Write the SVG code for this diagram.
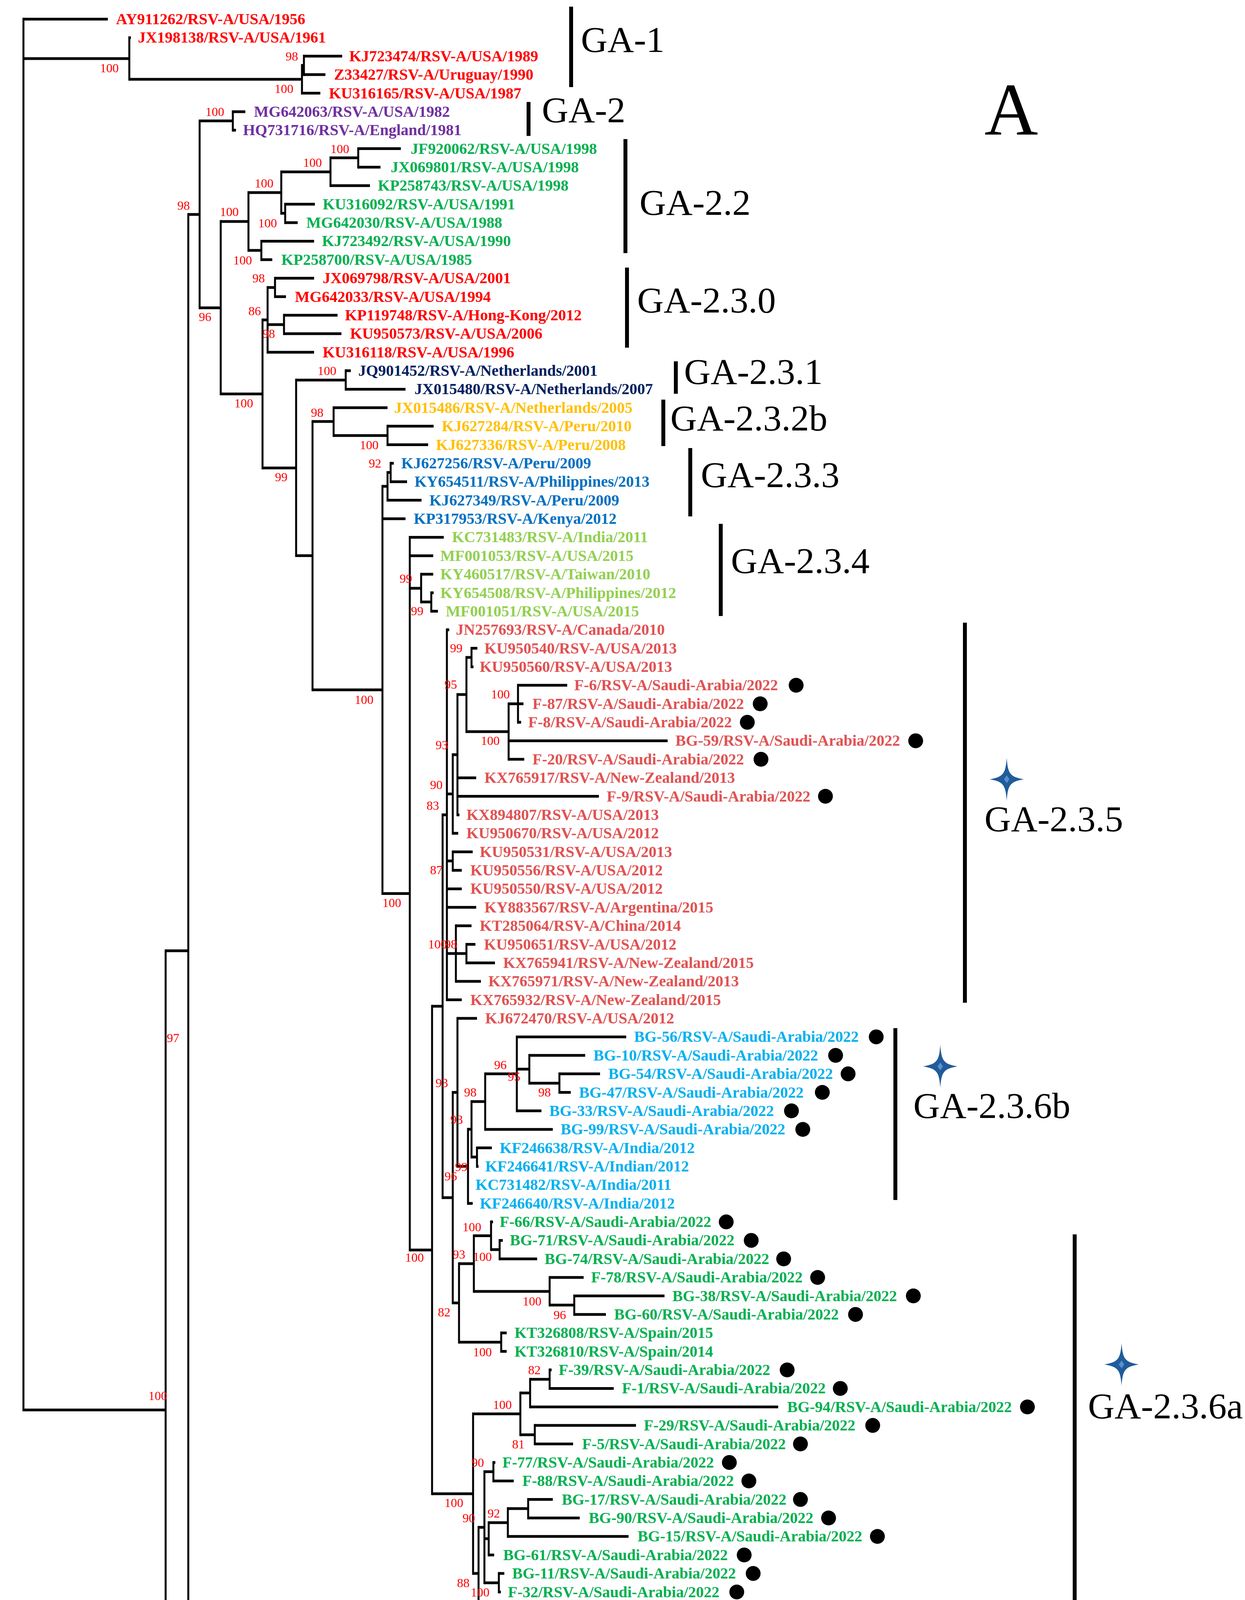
<svg xmlns="http://www.w3.org/2000/svg" xmlns:xlink="http://www.w3.org/1999/xlink" width="3187" height="5598" viewBox="0 0 3187 5598">
<style>
.t{font-family:"Liberation Serif","Times New Roman",serif;font-weight:bold;font-size:40px}
.b{font-family:"Liberation Serif","Times New Roman",serif;font-size:32px;fill:#ff0000}
.c{font-family:"Liberation Serif","Times New Roman",serif;font-size:94px;fill:#000}
.bar{stroke:#000;stroke-width:10}
.h{fill:none;stroke:#000;stroke-width:7}
.v{fill:none;stroke:#000;stroke-width:5}
.r{fill:#ff0000}.p{fill:#7030a0}.g{fill:#00b050}.nv{fill:#002060}.y{fill:#ffc000}.bl{fill:#0070c0}.lg{fill:#92d050}.s{fill:#e05252}.cy{fill:#00b0f0}.o{fill:#f79646}.br{fill:#c55a11}.ds{fill:#38385e}.pg{fill:#5f497a}.mb{fill:#3a8dde}.k{fill:#000}
</style>
<defs>
<g id="star"><path d="M0,-55 C3,-15 8,-6 44,0 C8,6 3,15 0,55 C-3,15 -8,6 -44,0 C-8,-6 -3,-15 0,-55Z" fill="#1f5c99"/><path d="M0,-10 L7,0 L0,10 L-7,0Z" fill="#5a8ed0"/></g>
</defs>
<rect width="3187" height="5598" fill="#fff"/>
<g id="connectors">
<path class="h" d="M60 49H276M60 150H331M331 96.4H335M331 203H773M773 167.5H778M778 143.7H876M778 191.1H833M773 238.5H820M60 3609.5H424M424 2434H482M482 549H511M511 309.5H596M596 285.9H628M596 333.2H604M511 788H565M565 567H636M636 493H720M720 440H846M846 404H917M917 380.6H1026M917 428H974M846 475.3H947M720 546H730M730 522.7H806M730 570.1H762M636 641H669M669 617.4H804M669 664.8H697M565 1008.5H672M672 819H685M685 736H704M704 712.2H804M704 759.6H732M685 831H727M727 806.9H864M727 854.3H874M685 901.7H804M672 1198H758M758 973H885M885 949H898M885 996.4H1038M758 1422.5H800M800 1079H854M854 1043.8H992M854 1115H992M992 1091.1H1110M992 1138.5H1096M800 1766H979M979 1245H992M992 1209.5H1000M1000 1185.9H1008M1000 1233.3H1042M992 1280.6H1079M979 1328H1038M979 2287.5H1049M1049 1375.4H1136M1049 1422.7H1109M1049 1506H1078M1078 1470.1H1109M1078 1541H1104M1104 1517.5H1110M1104 1564.8H1121M1049 3200H1106M1106 2576H1133M1133 2086H1144M1144 1612.2H1150M1144 2032.5H1159M1159 1932H1171M1171 1778H1194M1194 1683H1207M1207 1659.6H1222M1207 1707H1212M1194 1873H1302M1302 1801.7H1340M1326 1754.3H1452M1326 1849.1H1334M1302 1896.4H1709M1302 1943.8H1342M1171 1991.2H1219M1171 2038.5H1533M1171 2085.9H1176M1159 2133.3H1173M1144 2204H1159M1159 2180.7H1210M1159 2228H1182M1144 2275.4H1182M1144 2322.8H1219M1144 2441H1194M1167 2370.1H1207M1194 2417.5H1217M1194 2464.9H1267M1167 2512.2H1231M1144 2559.6H1182M1133 3066H1159M1159 2796.5H1171M1171 2607H1221M1171 2986H1198M1198 2891H1207M1207 2820H1242M1242 2749H1323M1323 2654.4H1603M1323 2737H1355M1355 2701.7H1498M1355 2773H1432M1432 2749.1H1536M1432 2796.5H1461M1323 2843.8H1386M1242 2891.2H1415M1207 2962H1221M1221 2938.6H1259M1221 2985.9H1225M1198 3080.7H1210M1159 3335.5H1175M1175 3235H1213M1213 3163.5H1257M1257 3128.1H1262M1257 3199H1279M1279 3175.4H1287M1279 3222.8H1375M1213 3306H1407M1407 3270.2H1494M1407 3341H1470M1470 3317.5H1701M1470 3364.9H1551M1175 3436H1283M1283 3412.3H1297M1283 3459.6H1297M1106 3824H1211M1211 3619.5H1332M1332 3566H1357M1357 3531H1407M1407 3507H1412M1407 3554.4H1571M1357 3601.8H1992M1332 3673H1369M1369 3649.1H1628M1369 3696.5H1467M1211 4028H1225M1225 3910H1240M1240 3767.5H1263M1263 3743.9H1268M1263 3791.2H1315M1240 3939H1251M1251 3898H1300M1300 3862H1352M1352 3838.6H1415M1352 3886H1484M1300 3933.3H1609M1251 3980.7H1265M1240 4052H1277M1277 4028.1H1291M1277 4075.5H1282M1225 4146.5H1296M1296 4122.8H1306M1296 4170.2H1349M482 4318H582M582 4277H623M623 4241H680M680 4217.6H694M680 4264.9H686M623 4312.3H640M582 4359.7H683M424 4496H436M436 4442.5H482M482 4407H496M482 4478H525M525 4454.4H539M525 4501.8H698M436 4549.1H683M424 4785H586M586 4644H611M611 4596.5H657M611 4643.9H616M611 4691.3H712M586 4926.5H721M721 4809.5H730M730 4762H737M737 4738.6H746M737 4786H746M730 4857H746M746 4833.4H761M746 4880.7H848M721 5043.5H733M733 4928.1H817M733 5159H794M794 5046.5H807M807 4999H825M825 4975.5H938M825 5022.8H1021M807 5094H833M833 5070.2H863M833 5117.6H848M794 5271.5H802M802 5164.9H871M802 5212.3H888M802 5378H883M883 5283H911M911 5259.7H926M911 5307.1H954M883 5354.4H967M883 5473H1070M1070 5425.5H1102M1102 5401.8H1159M1102 5449.2H1128M1070 5520H1084M1084 5496.5H1159M1084 5543.9H1211"/>
<path class="v" d="M60 45.5V3613M331 93V206.5M773 164V242M778 140V194.6M424 2430.5V4788.5M482 545.5V4321.5M511 306V791.5M596 282.4V336.7M565 563.5V1012M636 489.5V644.5M720 436.5V549.5M846 400.5V478.8M917 377.1V431.5M730 519.2V573.6M669 613.9V668.3M672 815.5V1201.5M685 732.5V905.2M704 708.7V763.1M727 803.4V857.8M758 969.5V1426M885 945.5V999.9M800 1075.5V1769.5M854 1040.3V1118.5M992 1087.6V1142M979 1241.5V2291M992 1206V1284.1M1000 1182.4V1236.8M1049 1371.9V3203.5M1078 1466.6V1544.5M1104 1514V1568.3M1106 2572.5V3827.5M1133 2082.5V3069.5M1144 1608.7V2563.1M1159 1928.5V2136.8M1171 1774.5V2089.4M1194 1679.5V1876.5M1207 1656.1V1710.5M1302 1798.2V1947.3M1326 1750.8V1852.6M1159 2177.2V2231.5M1167 2366.6V2515.7M1194 2414V2468.4M1159 2793V3339M1171 2603.5V2989.5M1198 2887.5V3084.2M1207 2816.5V2965.5M1242 2745.5V2894.7M1323 2650.9V2847.3M1355 2698.2V2776.5M1432 2745.6V2800M1221 2935.1V2989.4M1175 3231.5V3439.5M1213 3160V3309.5M1257 3124.6V3202.5M1279 3171.9V3226.3M1407 3266.7V3344.5M1470 3314V3368.4M1283 3408.8V3463.1M1211 3616V4031.5M1332 3562.5V3676.5M1357 3527.5V3605.3M1407 3503.5V3557.9M1369 3645.6V3700M1225 3906.5V4150M1240 3764V4055.5M1263 3740.4V3794.7M1251 3894.5V3984.2M1300 3858.5V3936.8M1352 3835.1V3889.5M1277 4024.6V4079M1296 4119.3V4173.7M582 4273.5V4363.2M623 4237.5V4315.8M680 4214.1V4268.4M436 4439V4552.6M482 4403.5V4481.5M525 4450.9V4505.3M586 4640.5V4930M611 4593V4694.8M721 4806V5047M730 4758.5V4860.5M737 4735.1V4789.5M746 4829.9V4884.2M733 4924.6V5162.5M794 5043V5275M807 4995.5V5097.5M825 4972V5026.3M833 5066.7V5121.1M802 5161.4V5381.5M883 5279.5V5476.5M911 5256.2V5310.6M1070 5422V5523.5M1102 5398.3V5452.7M1084 5493V5547.4"/>
</g>
<g id="bootstrap" class="b">
<text x="256" y="185">100</text><text x="731" y="155">98</text><text x="703" y="238">100</text><text x="526" y="297">100</text><text x="846" y="392">100</text><text x="776" y="427">100</text><text x="652" y="480">100</text><text x="563" y="553">100</text><text x="661" y="582">100</text><text x="597" y="677">100</text><text x="454" y="537">98</text><text x="509" y="822">96</text><text x="646" y="723">98</text><text x="636" y="807">86</text><text x="672" y="865">98</text><text x="600" y="1043">100</text><text x="813" y="960">100</text><text x="796" y="1067">98</text><text x="921" y="1150">100</text><text x="704" y="1232">99</text><text x="944" y="1197">92</text><text x="1023" y="1492">99</text><text x="1052" y="1575">99</text><text x="908" y="1802">100</text><text x="1152" y="1670">99</text><text x="1138" y="1763">95</text><text x="1257" y="1788">100</text><text x="1231" y="1907">100</text><text x="1115" y="1918">93</text><text x="1101" y="2020">90</text><text x="1092" y="2073">83</text><text x="1101" y="2238">87</text><text x="979" y="2322">100</text><text x="1096" y="2428">100</text><text x="1138" y="2428">98</text><text x="1115" y="2783">93</text><text x="1265" y="2737">96</text><text x="1300" y="2767">95</text><text x="1378" y="2807">98</text><text x="1188" y="2807">98</text><text x="1153" y="2877">93</text><text x="1165" y="2998">99</text><text x="1138" y="3022">96</text><text x="1184" y="3152">100</text><text x="1159" y="3222">93</text><text x="1211" y="3228">100</text><text x="1037" y="3230">100</text><text x="1338" y="3342">100</text><text x="1417" y="3377">96</text><text x="1121" y="3370">82</text><text x="1211" y="3472">100</text><text x="1352" y="3518">82</text><text x="1262" y="3607">100</text><text x="1311" y="3708">81</text><text x="1207" y="3755">90</text><text x="1138" y="3858">100</text><text x="1248" y="3885">92</text><text x="1184" y="3897">90</text><text x="1170" y="4063">88</text><text x="1205" y="4087">100</text><text x="1243" y="4182">98</text><text x="611" y="4228">100</text><text x="557" y="4265">100</text><text x="513" y="4353">100</text><text x="427" y="4428">98</text><text x="471" y="4512">97</text><text x="556" y="4632">96</text><text x="517" y="4817">100</text><text x="678" y="4785">98</text><text x="692" y="4890">98</text><text x="648" y="4955">100</text><text x="771" y="4987">87</text><text x="678" y="5077">98</text><text x="776" y="5129">99</text><text x="718" y="5193">100</text><text x="842" y="5273">100</text><text x="813" y="5416">100</text><text x="1029" y="5415">100</text><text x="1001" y="5512">100</text><text x="1029" y="5558">99</text><text x="427" y="2668">97</text><text x="380" y="3584">100</text>
</g>
<g id="leaves" class="t">
<g id="n1" class="r"><text x="297" y="62">AY911262/RSV-A/USA/1956</text></g>
<g id="n2" class="r"><text x="353" y="109.4">JX198138/RSV-A/USA/1961</text></g>
<g id="n3" class="r"><text x="894" y="156.7">KJ723474/RSV-A/USA/1989</text></g>
<g id="n4" class="r"><text x="855" y="204.1">Z33427/RSV-A/Uruguay/1990</text></g>
<g id="n5" class="r"><text x="842" y="251.5">KU316165/RSV-A/USA/1987</text></g>
<g id="n6" class="p"><text x="650" y="298.9">MG642063/RSV-A/USA/1982</text></g>
<g id="n7" class="p"><text x="622" y="346.2">HQ731716/RSV-A/England/1981</text></g>
<g id="n8" class="g"><text x="1051" y="393.6">JF920062/RSV-A/USA/1998</text></g>
<g id="n9" class="g"><text x="1000" y="441">JX069801/RSV-A/USA/1998</text></g>
<g id="n10" class="g"><text x="967" y="488.3">KP258743/RSV-A/USA/1998</text></g>
<g id="n11" class="g"><text x="826" y="535.7">KU316092/RSV-A/USA/1991</text></g>
<g id="n12" class="g"><text x="784" y="583.1">MG642030/RSV-A/USA/1988</text></g>
<g id="n13" class="g"><text x="824" y="630.4">KJ723492/RSV-A/USA/1990</text></g>
<g id="n14" class="g"><text x="720" y="677.8">KP258700/RSV-A/USA/1985</text></g>
<g id="n15" class="r"><text x="826" y="725.2">JX069798/RSV-A/USA/2001</text></g>
<g id="n16" class="r"><text x="755" y="772.6">MG642033/RSV-A/USA/1994</text></g>
<g id="n17" class="r"><text x="883" y="819.9">KP119748/RSV-A/Hong-Kong/2012</text></g>
<g id="n18" class="r"><text x="896" y="867.3">KU950573/RSV-A/USA/2006</text></g>
<g id="n19" class="r"><text x="826" y="914.7">KU316118/RSV-A/USA/1996</text></g>
<g id="n20" class="nv"><text x="917" y="962">JQ901452/RSV-A/Netherlands/2001</text></g>
<g id="n21" class="nv"><text x="1061" y="1009.4">JX015480/RSV-A/Netherlands/2007</text></g>
<g id="n22" class="y"><text x="1009" y="1056.8">JX015486/RSV-A/Netherlands/2005</text></g>
<g id="n23" class="y"><text x="1131" y="1104.1">KJ627284/RSV-A/Peru/2010</text></g>
<g id="n24" class="y"><text x="1116" y="1151.5">KJ627336/RSV-A/Peru/2008</text></g>
<g id="n25" class="bl"><text x="1027" y="1198.9">KJ627256/RSV-A/Peru/2009</text></g>
<g id="n26" class="bl"><text x="1061" y="1246.3">KY654511/RSV-A/Philippines/2013</text></g>
<g id="n27" class="bl"><text x="1099" y="1293.6">KJ627349/RSV-A/Peru/2009</text></g>
<g id="n28" class="bl"><text x="1059" y="1341">KP317953/RSV-A/Kenya/2012</text></g>
<g id="n29" class="lg"><text x="1157" y="1388.4">KC731483/RSV-A/India/2011</text></g>
<g id="n30" class="lg"><text x="1127" y="1435.7">MF001053/RSV-A/USA/2015</text></g>
<g id="n31" class="lg"><text x="1127" y="1483.1">KY460517/RSV-A/Taiwan/2010</text></g>
<g id="n32" class="lg"><text x="1127" y="1530.5">KY654508/RSV-A/Philippines/2012</text></g>
<g id="n33" class="lg"><text x="1141" y="1577.8">MF001051/RSV-A/USA/2015</text></g>
<g id="n34" class="s"><text x="1167" y="1625.2">JN257693/RSV-A/Canada/2010</text></g>
<g id="n35" class="s"><text x="1240" y="1672.6">KU950540/RSV-A/USA/2013</text></g>
<g id="n36" class="s"><text x="1228" y="1720">KU950560/RSV-A/USA/2013</text></g>
<g id="n37" class="s"><text x="1470" y="1767.3">F-6/RSV-A/Saudi-Arabia/2022</text><circle cx="2038" cy="1754.3" r="19" class="k"/></g>
<g id="n38" class="s"><text x="1363" y="1814.7">F-87/RSV-A/Saudi-Arabia/2022</text><circle cx="1946" cy="1801.7" r="19" class="k"/></g>
<g id="n39" class="s"><text x="1352" y="1862.1">F-8/RSV-A/Saudi-Arabia/2022</text><circle cx="1913" cy="1849.1" r="19" class="k"/></g>
<g id="n40" class="s"><text x="1729" y="1909.4">BG-59/RSV-A/Saudi-Arabia/2022</text><circle cx="2344" cy="1896.4" r="19" class="k"/></g>
<g id="n41" class="s"><text x="1363" y="1956.8">F-20/RSV-A/Saudi-Arabia/2022</text><circle cx="1948" cy="1943.8" r="19" class="k"/></g>
<g id="n42" class="s"><text x="1240" y="2004.2">KX765917/RSV-A/New-Zealand/2013</text></g>
<g id="n43" class="s"><text x="1553" y="2051.5">F-9/RSV-A/Saudi-Arabia/2022</text><circle cx="2113" cy="2038.5" r="19" class="k"/></g>
<g id="n44" class="s"><text x="1194" y="2098.9">KX894807/RSV-A/USA/2013</text></g>
<g id="n45" class="s"><text x="1194" y="2146.3">KU950670/RSV-A/USA/2012</text></g>
<g id="n46" class="s"><text x="1228" y="2193.7">KU950531/RSV-A/USA/2013</text></g>
<g id="n47" class="s"><text x="1204" y="2241">KU950556/RSV-A/USA/2012</text></g>
<g id="n48" class="s"><text x="1204" y="2288.4">KU950550/RSV-A/USA/2012</text></g>
<g id="n49" class="s"><text x="1240" y="2335.8">KY883567/RSV-A/Argentina/2015</text></g>
<g id="n50" class="s"><text x="1228" y="2383.1">KT285064/RSV-A/China/2014</text></g>
<g id="n51" class="s"><text x="1239" y="2430.5">KU950651/RSV-A/USA/2012</text></g>
<g id="n52" class="s"><text x="1288" y="2477.9">KX765941/RSV-A/New-Zealand/2015</text></g>
<g id="n53" class="s"><text x="1250" y="2525.2">KX765971/RSV-A/New-Zealand/2013</text></g>
<g id="n54" class="s"><text x="1204" y="2572.6">KX765932/RSV-A/New-Zealand/2015</text></g>
<g id="n55" class="s"><text x="1242" y="2620">KJ672470/RSV-A/USA/2012</text></g>
<g id="n56" class="cy"><text x="1623" y="2667.4">BG-56/RSV-A/Saudi-Arabia/2022</text><circle cx="2243" cy="2654.4" r="19" class="k"/></g>
<g id="n57" class="cy"><text x="1519" y="2714.7">BG-10/RSV-A/Saudi-Arabia/2022</text><circle cx="2139" cy="2701.7" r="19" class="k"/></g>
<g id="n58" class="cy"><text x="1557" y="2762.1">BG-54/RSV-A/Saudi-Arabia/2022</text><circle cx="2171" cy="2749.1" r="19" class="k"/></g>
<g id="n59" class="cy"><text x="1482" y="2809.5">BG-47/RSV-A/Saudi-Arabia/2022</text><circle cx="2105" cy="2796.5" r="19" class="k"/></g>
<g id="n60" class="cy"><text x="1406" y="2856.8">BG-33/RSV-A/Saudi-Arabia/2022</text><circle cx="2026" cy="2843.8" r="19" class="k"/></g>
<g id="n61" class="cy"><text x="1435" y="2904.2">BG-99/RSV-A/Saudi-Arabia/2022</text><circle cx="2055" cy="2891.2" r="19" class="k"/></g>
<g id="n62" class="cy"><text x="1279" y="2951.6">KF246638/RSV-A/India/2012</text></g>
<g id="n63" class="cy"><text x="1242" y="2998.9">KF246641/RSV-A/Indian/2012</text></g>
<g id="n64" class="cy"><text x="1217" y="3046.3">KC731482/RSV-A/India/2011</text></g>
<g id="n65" class="cy"><text x="1228" y="3093.7">KF246640/RSV-A/India/2012</text></g>
<g id="n66" class="g"><text x="1279" y="3141.1">F-66/RSV-A/Saudi-Arabia/2022</text><circle cx="1859" cy="3128.1" r="19" class="k"/></g>
<g id="n67" class="g"><text x="1305" y="3188.4">BG-71/RSV-A/Saudi-Arabia/2022</text><circle cx="1923" cy="3175.4" r="19" class="k"/></g>
<g id="n68" class="g"><text x="1394" y="3235.8">BG-74/RSV-A/Saudi-Arabia/2022</text><circle cx="2006" cy="3222.8" r="19" class="k"/></g>
<g id="n69" class="g"><text x="1513" y="3283.2">F-78/RSV-A/Saudi-Arabia/2022</text><circle cx="2093" cy="3270.2" r="19" class="k"/></g>
<g id="n70" class="g"><text x="1721" y="3330.5">BG-38/RSV-A/Saudi-Arabia/2022</text><circle cx="2338" cy="3317.5" r="19" class="k"/></g>
<g id="n71" class="g"><text x="1572" y="3377.9">BG-60/RSV-A/Saudi-Arabia/2022</text><circle cx="2190" cy="3364.9" r="19" class="k"/></g>
<g id="n72" class="g"><text x="1317" y="3425.3">KT326808/RSV-A/Spain/2015</text></g>
<g id="n73" class="g"><text x="1317" y="3472.6">KT326810/RSV-A/Spain/2014</text></g>
<g id="n74" class="g"><text x="1430" y="3520">F-39/RSV-A/Saudi-Arabia/2022</text><circle cx="2015" cy="3507" r="19" class="k"/></g>
<g id="n75" class="g"><text x="1592" y="3567.4">F-1/RSV-A/Saudi-Arabia/2022</text><circle cx="2151" cy="3554.4" r="19" class="k"/></g>
<g id="n76" class="g"><text x="2015" y="3614.8">BG-94/RSV-A/Saudi-Arabia/2022</text><circle cx="2630" cy="3601.8" r="19" class="k"/></g>
<g id="n77" class="g"><text x="1648" y="3662.1">F-29/RSV-A/Saudi-Arabia/2022</text><circle cx="2234" cy="3649.1" r="19" class="k"/></g>
<g id="n78" class="g"><text x="1490" y="3709.5">F-5/RSV-A/Saudi-Arabia/2022</text><circle cx="2049" cy="3696.5" r="19" class="k"/></g>
<g id="n79" class="g"><text x="1286" y="3756.9">F-77/RSV-A/Saudi-Arabia/2022</text><circle cx="1867" cy="3743.9" r="19" class="k"/></g>
<g id="n80" class="g"><text x="1337" y="3804.2">F-88/RSV-A/Saudi-Arabia/2022</text><circle cx="1917" cy="3791.2" r="19" class="k"/></g>
<g id="n81" class="g"><text x="1438" y="3851.6">BG-17/RSV-A/Saudi-Arabia/2022</text><circle cx="2049" cy="3838.6" r="19" class="k"/></g>
<g id="n82" class="g"><text x="1507" y="3899">BG-90/RSV-A/Saudi-Arabia/2022</text><circle cx="2121" cy="3886" r="19" class="k"/></g>
<g id="n83" class="g"><text x="1632" y="3946.3">BG-15/RSV-A/Saudi-Arabia/2022</text><circle cx="2246" cy="3933.3" r="19" class="k"/></g>
<g id="n84" class="g"><text x="1288" y="3993.7">BG-61/RSV-A/Saudi-Arabia/2022</text><circle cx="1905" cy="3980.7" r="19" class="k"/></g>
<g id="n85" class="g"><text x="1311" y="4041.1">BG-11/RSV-A/Saudi-Arabia/2022</text><circle cx="1928" cy="4028.1" r="19" class="k"/></g>
<g id="n86" class="g"><text x="1300" y="4088.5">F-32/RSV-A/Saudi-Arabia/2022</text><circle cx="1886" cy="4075.5" r="19" class="k"/></g>
<g id="n87" class="g"><text x="1329" y="4135.8">F-84/RSV-A/Saudi-Arabia/2022</text><circle cx="1911" cy="4122.8" r="19" class="k"/></g>
<g id="n88" class="g"><text x="1370" y="4183.2">BG-83/RSV-A/Saudi-Arabia/2022</text><circle cx="1985" cy="4170.2" r="19" class="k"/></g>
<g id="n89" class="cy"><text x="715" y="4230.6">KJ723483/RSV-A/USA/1984</text></g>
<g id="n90" class="cy"><text x="704" y="4277.9">KU316098/RSV-A/USA/1984</text></g>
<g id="n91" class="cy"><text x="663" y="4325.3">KP258723/RSV-A/USA/1986</text></g>
<g id="n92" class="cy"><text x="704" y="4372.7">MG642070/RSV-A/USA/1986</text></g>
<g id="n93" class="o"><text x="517" y="4420">HQ731715/RSV-A/England/1976</text></g>
<g id="n94" class="o"><text x="559" y="4467.4">KU316137/RSV-A/USA/1979</text></g>
<g id="n95" class="o"><text x="717" y="4514.8">KU316149/RSV-A/USA/1977</text></g>
<g id="n96" class="o"><text x="704" y="4562.1">KP258715/RSV-A/USA/1988</text></g>
<g id="n97" class="br"><text x="677" y="4609.5">KP258699/RSV-A/USA/1985</text></g>
<g id="n98" class="br"><text x="634" y="4656.9">MG642031/RSV-A/USA/1982</text></g>
<g id="n99" class="br"><text x="730" y="4704.3">KU316133/RSV-A/USA/1990</text></g>
<g id="n100" class="ds"><text x="767" y="4751.6">KJ723465/RSV-A/USA/1992</text></g>
<g id="n101" class="ds"><text x="767" y="4799">KP258701/RSV-A/USA/1994</text></g>
<g id="n102" class="ds"><text x="782" y="4846.4">KU316104/RSV-A/USA/1991</text></g>
<g id="n103" class="ds"><text x="867" y="4893.7">KU316161/RSV-A/USA/1993</text></g>
<g id="n104" class="pg"><text x="836" y="4941.1">KU316170/RSV-A/USA/1995</text></g>
<g id="n105" class="mb"><text x="957" y="4988.5">JQ901455/RSV-A/Netherlands/2002</text></g>
<g id="n106" class="mb"><text x="1040" y="5035.8">KY967364/RSV-A/USA/2015</text></g>
<g id="n107" class="mb"><text x="882" y="5083.2">JX069802/RSV-A/USA/1998</text></g>
<g id="n108" class="mb"><text x="869" y="5130.6">KM360090/RSV-A/USA/2001</text></g>
<g id="n109" class="k"><text x="894" y="5177.9">JX513302/RSV-A/Brazil/2002</text></g>
<g id="n110" class="k"><text x="911" y="5225.3">JX513334/RSV-A/Brazil/2003</text></g>
<g id="n111" class="r"><text x="946" y="5272.7">KF826826/RSV-A/Mexico/2004</text></g>
<g id="n112" class="r"><text x="975" y="5320.1">KF826850/RSV-A/USA/2008</text></g>
<g id="n113" class="r"><text x="987" y="5367.4">KF826827/RSV-A/Argentina/2004</text></g>
<g id="n114" class="r"><text x="1180" y="5414.8">KC297367/RSV-A/China/2012</text></g>
<g id="n115" class="r"><text x="1148" y="5462.2">MF001038/RSV-A/USA/2015</text></g>
<g id="n116" class="r"><text x="1179" y="5509.5">KF826832/RSV-A/Italy/2009</text></g>
<g id="n117" class="r"><text x="1230" y="5556.9">KX765933/RSV-A/New-Zealand/2012</text></g>
</g>
<g id="clades">
<g id="GA-1"><line class="bar" x1="1462" y1="17" x2="1462" y2="223"/><text class="c" x="1487" y="133">GA-1</text></g>
<g id="GA-2"><line class="bar" x1="1353" y1="261" x2="1353" y2="348"/><text class="c" x="1387" y="313">GA-2</text></g>
<g id="GA-2.2"><line class="bar" x1="1601" y1="356" x2="1601" y2="648"/><text class="c" x="1637" y="550">GA-2.2</text></g>
<g id="GA-2.3.0"><line class="bar" x1="1605" y1="685" x2="1605" y2="890"/><text class="c" x="1631" y="800">GA-2.3.0</text></g>
<g id="GA-2.3.1"><line class="bar" x1="1730" y1="925" x2="1730" y2="1008"/><text class="c" x="1751" y="983">GA-2.3.1</text></g>
<g id="GA-2.3.2b"><line class="bar" x1="1698" y1="1023" x2="1698" y2="1142"/><text class="c" x="1716" y="1102">GA-2.3.2b</text></g>
<g id="GA-2.3.3"><line class="bar" x1="1767" y1="1147" x2="1767" y2="1322"/><text class="c" x="1794" y="1247">GA-2.3.3</text></g>
<g id="GA-2.3.4"><line class="bar" x1="1845" y1="1341" x2="1845" y2="1577"/><text class="c" x="1871" y="1467">GA-2.3.4</text></g>
<g id="GA-2.3.5"><line class="bar" x1="2470" y1="1594" x2="2470" y2="2567"/><use xlink:href="#star" x="2577" y="1995"/><text class="c" x="2520" y="2128">GA-2.3.5</text></g>
<g id="GA-2.3.6b"><line class="bar" x1="2292" y1="2632" x2="2292" y2="3072"/><use xlink:href="#star" x="2407" y="2730"/><text class="c" x="2338" y="2862">GA-2.3.6b</text></g>
<g id="GA-2.3.6a"><line class="bar" x1="2751" y1="3160" x2="2751" y2="4264"/><use xlink:href="#star" x="2871" y="3493"/><text class="c" x="2785" y="3631">GA-2.3.6a</text></g>
<g id="GA-2.1"><line class="bar" x1="1341" y1="4191" x2="1341" y2="4368"/><text class="c" x="1370" y="4299">GA-2.1</text></g>
<g id="GA-3.0.0"><line class="bar" x1="1272" y1="4367" x2="1272" y2="4573"/><text class="c" x="1280" y="4482">GA-3.0.0</text></g>
<g id="GA-3.0.1"><line class="bar" x1="1341" y1="4573" x2="1341" y2="4691"/><text class="c" x="1359" y="4653">GA-3.0.1</text></g>
<g id="GA-3.0.2"><line class="bar" x1="1459" y1="4708" x2="1459" y2="4913"/><text class="c" x="1471" y="4825">GA-3.0.2</text></g>
<g id="GA-3.0.3a"><line class="bar" x1="1690" y1="4917" x2="1690" y2="5122"/><text class="c" x="1701" y="5043">GA-3.0.3a</text></g>
<g id="GA-3.0.3b"><line class="bar" x1="1509" y1="5126" x2="1509" y2="5212"/><text class="c" x="1528" y="5193">GA-3.0.3b</text></g>
<g id="GA-3.0.4b"><line class="bar" x1="1647" y1="5226" x2="1647" y2="5373"/><text class="c" x="1682" y="5318">GA-3.0.4b</text></g>
<g id="GA-3.0.5b"><line class="bar" x1="1947" y1="5352" x2="1947" y2="5557"/><text class="c" x="1967" y="5468">GA-3.0.5b</text></g>
</g>
<g id="panel-label"><text class="c" x="2520" y="345" style="font-size:190px">A</text></g>
</svg>
